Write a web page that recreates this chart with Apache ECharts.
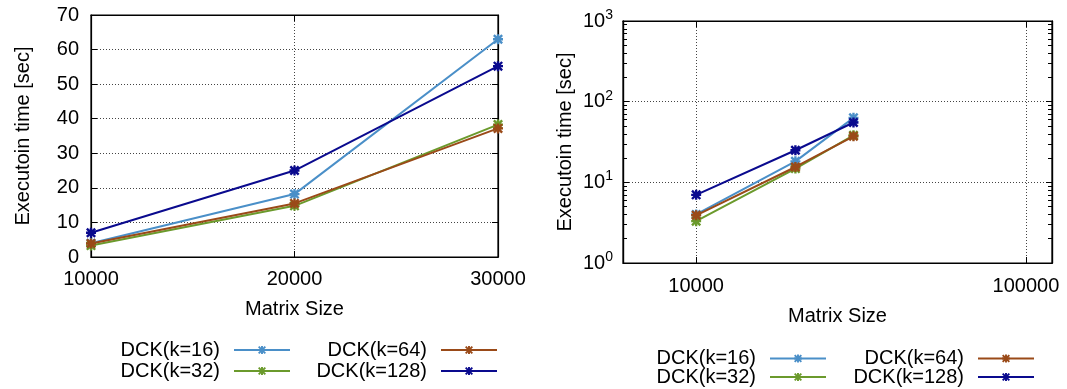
<!DOCTYPE html>
<html><head><meta charset="utf-8">
<script src="https://cdn.jsdelivr.net/npm/echarts@6/dist/echarts.min.js"></script>
<style>html,body{margin:0;padding:0;background:#fff}#c{width:1067px;height:389px}</style>
</head><body><div id="c"></div>
<script>
const sizes = [10000, 20000, 30000];
const seriesNames = ['DCK(k=16)', 'DCK(k=32)', 'DCK(k=64)', 'DCK(k=128)'];
const k16 = [4.0, 18.2, 63.0];
const k32 = [3.3, 14.8, 38.3];
const k64 = [3.9, 15.5, 37.2];
const k128 = [7.0, 25.0, 55.2];
const seriesValues = [k16, k32, k64, k128];
const colors = ['#4a8fc8', '#6b9a2c', '#9a4a18', '#0a0a8e'];
const linYTicks = {min: 0, max: 70, interval: 10};
const linXTicks = {min: 10000, max: 30000, interval: 10000};
const logXRange = {min: 6000, max: 120000};
const logYRange = {min: 1, max: 1000};
const logDecades = [1, 10, 100];
const logMinorMult = [2, 3, 4, 5, 6, 7, 8, 9];
const xTitle = 'Matrix Size';
const yTitle = 'Executoin time [sec]';

// minor tick positions on the log y axis, as exponents for a helper value axis
const minorExp = [];
logDecades.forEach(d => logMinorMult.forEach(m => minorExp.push(Math.log10(d * m))));

const FONT = 'Liberation Sans';
const star = 'path://M0,3.8L10,3.8L10,6.2L0,6.2Z M3.8,0L6.2,0L6.2,10L3.8,10Z M0,1.7L1.7,0L10,8.3L8.3,10Z M8.3,0L10,1.7L1.7,10L0,8.3Z';
const gridLine = {show: true, lineStyle: {color: '#444', width: 1, type: [1, 2]}};
const axisLine = {show: true, onZero: false, lineStyle: {color: '#000', width: 1.2}};
const lbl = {color: '#000', fontSize: 20, fontFamily: FONT};
const tick = {show: true, inside: true, length: 6, lineStyle: {color: '#000'}};
const minorTick = {show: true, inside: true, length: 4, lineStyle: {color: '#000', width: 1}, customValues: minorExp};
const plain = v => String(v);

const chart = echarts.init(document.getElementById('c'), null, {renderer: 'canvas'});

const series = [];
seriesNames.forEach((n, i) => {
  [0, 1].forEach(g => {
    series.push({
      name: n, type: 'line', xAxisIndex: g * 2, yAxisIndex: g * 2,
      data: sizes.map((x, j) => [x, seriesValues[i][j]]),
      symbol: star, symbolSize: 10, showSymbol: true,
      lineStyle: {color: colors[i], width: 2},
      itemStyle: {color: colors[i]},
      z: 2 + i
    });
  });
});

// legend layout: [series index, right, top]
const legendPos = [
  [0, 776, 340], [1, 776, 361], [2, 569, 340], [3, 569, 361],
  [0, 240, 348.5], [1, 240, 367], [2, 32, 348.5], [3, 32, 367]
];
const legends = legendPos.map(p => ({
  data: [seriesNames[p[0]]], right: p[1], top: p[2], align: 'right', orient: 'vertical',
  itemWidth: 56, itemHeight: 10, selectedMode: false, padding: 0,
  textStyle: {fontSize: 20, fontFamily: FONT, color: '#000', lineHeight: 20, padding: [0, 9, 0, 0]}
}));

chart.setOption({
  animation: false,
  backgroundColor: '#fff',
  grid: [
    {left: 91, top: 15, width: 407, height: 242, show: true, borderColor: '#000', borderWidth: 1.2},
    {left: 623, top: 21, width: 429, height: 242, show: true, borderColor: '#000', borderWidth: 1.2}
  ],
  legend: legends,
  xAxis: [
    {gridIndex: 0, type: 'value', position: 'bottom', ...linXTicks, axisLine, axisTick: tick,
     axisLabel: {...lbl, margin: 12, formatter: plain}, splitLine: gridLine,
     name: xTitle, nameLocation: 'middle', nameGap: 42, nameTextStyle: lbl},
    {gridIndex: 0, type: 'value', position: 'top', ...linXTicks, axisLine, axisTick: tick,
     axisLabel: {show: false}, splitLine: {show: false}},
    {gridIndex: 1, type: 'log', logBase: 10, position: 'bottom', ...logXRange, axisLine, axisTick: tick,
     axisLabel: {...lbl, margin: 13, showMinLabel: false, showMaxLabel: false, formatter: plain}, splitLine: gridLine,
     name: xTitle, nameLocation: 'middle', nameGap: 43, nameTextStyle: lbl},
    {gridIndex: 1, type: 'log', logBase: 10, position: 'top', ...logXRange, axisLine, axisTick: tick,
     axisLabel: {show: false}, splitLine: {show: false}}
  ],
  yAxis: [
    {gridIndex: 0, type: 'value', position: 'left', ...linYTicks, axisLine, axisTick: tick,
     axisLabel: {...lbl, margin: 12}, splitLine: gridLine,
     name: yTitle, nameLocation: 'middle', nameGap: 58, nameTextStyle: lbl},
    {gridIndex: 0, type: 'value', position: 'right', ...linYTicks, axisLine, axisTick: tick,
     axisLabel: {show: false}, splitLine: {show: false}},
    {gridIndex: 1, type: 'log', logBase: 10, position: 'left', ...logYRange, axisLine, axisTick: tick,
     axisLabel: {margin: 10, formatter: v => '{b|10}{s|' + Math.round(Math.log10(v)) + '}',
       rich: {b: {fontSize: 20, fontFamily: FONT, color: '#000'}, s: {fontSize: 14, fontFamily: FONT, color: '#000', padding: [0, 0, 12, 0]}}},
     splitLine: gridLine,
     name: yTitle, nameLocation: 'middle', nameGap: 48, nameTextStyle: lbl},
    {gridIndex: 1, type: 'log', logBase: 10, position: 'right', ...logYRange, axisLine, axisTick: tick,
     axisLabel: {show: false}, splitLine: {show: false}},
    {gridIndex: 1, type: 'value', position: 'left', min: 0, max: 3, axisLine, axisTick: minorTick,
     axisLabel: {show: false}, splitLine: {show: false}},
    {gridIndex: 1, type: 'value', position: 'right', min: 0, max: 3, axisLine, axisTick: minorTick,
     axisLabel: {show: false}, splitLine: {show: false}}
  ],
  series
});
</script>
</body></html>
